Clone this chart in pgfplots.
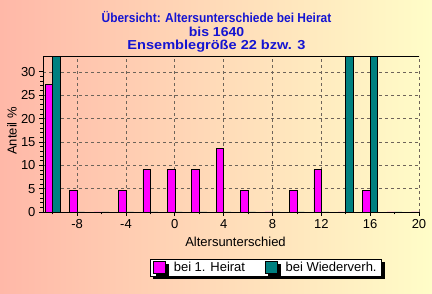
\documentclass[border=0pt]{standalone}
\usepackage{pgfplots}
\pgfplotsset{compat=1.18}
\usepackage{fontspec}
\setmainfont{Liberation Sans}
\usetikzlibrary{shadows}
\definecolor{bgleft}{RGB}{255,184,168}
\definecolor{bgright}{RGB}{255,253,200}
\definecolor{mag}{RGB}{255,0,255}
\definecolor{tealc}{RGB}{0,128,128}
\definecolor{titleblue}{RGB}{20,20,210}
\definecolor{gridc}{RGB}{110,100,90}
\begin{document}
\begin{tikzpicture}
\shade[left color=bgleft, right color=bgright] (0pt,0pt) rectangle (432pt,294pt);
\node[align=center, text=titleblue, font=\bfseries\fontsize{13}{13.5}\selectfont] at (216.5pt,262pt)
  {\scalebox{0.92}[1]{Übersicht: Altersunterschiede bei Heirat}\\
   \scalebox{1.08}[1]{bis 1640}\\
   \scalebox{1.12}[1]{Ensemblegröße 22 bzw. 3}};
\begin{axis}[
  scale only axis, width=376pt, height=156pt,
  at={(43pt,82pt)}, anchor=south west,
  xmin=-10.8, xmax=20, ymin=0, ymax=33.4,
  ybar=0pt, bar width=0.615,
  axis x line*=bottom, axis y line*=left,
  axis line style={black, line width=0.9pt},
  xtick={-8,-4,...,20}, minor xtick={-10,-6,...,18},
  ytick={0,5,...,30}, minor y tick num=4,
  tick align=outside, major tick length=4pt, minor tick length=2.5pt,
  tick style={black, line width=0.8pt},
  grid=major,
  major grid style={dash pattern=on 3pt off 3pt, gridc, line width=0.7pt},
  /pgf/number format/assume math mode=true,
  ticklabel style={font=\fontsize{13}{15}\selectfont},
  xlabel={Altersunterschied},
  ylabel={Anteil \%},
  label style={font=\fontsize{13}{15}\selectfont},
  xlabel style={at={(axis description cs:0.512,-0.19)}, anchor=center},
  ylabel style={at={(axis description cs:-0.0824,0.52)}, anchor=center},
  legend columns=2,
  legend style={at={(0.593,-0.356)}, anchor=center, draw=black, fill=white,
    line width=0.8pt,
    font=\fontsize{13}{15}\selectfont,
    /tikz/every odd column/.append style={column sep=6pt},
    /tikz/every even column/.append style={column sep=18pt},
    drop shadow={shadow xshift=3pt, shadow yshift=-3pt, fill=black, opacity=1},
    inner xsep=3pt, inner ysep=1pt},
  legend image code/.code={\draw[#1, draw=black, line width=0.5pt] (0pt,-6pt) rectangle (12pt,6pt);},
]
\addplot[fill=mag, draw=black, line width=0.6pt] coordinates {
  (-10,27.27) (-8,4.55) (-6,0) (-4,4.55) (-2,9.09) (0,9.09) (2,9.09) (4,13.64)
  (6,4.55) (8,0) (10,4.55) (12,9.09) (14,0) (16,4.55) (18,0) (20,0)};
\addplot[fill=tealc, draw=black, line width=0.6pt] coordinates {
  (-10,33.33) (-8,0) (-6,0) (-4,0) (-2,0) (0,0) (2,0) (4,0)
  (6,0) (8,0) (10,0) (12,0) (14,33.33) (16,33.33) (18,0)};
\legend{bei 1. Heirat, bei Wiederverh.}
\draw[black, line width=0.9pt] (rel axis cs:0,1) -- (rel axis cs:1,1);
\end{axis}
\end{tikzpicture}
\end{document}
